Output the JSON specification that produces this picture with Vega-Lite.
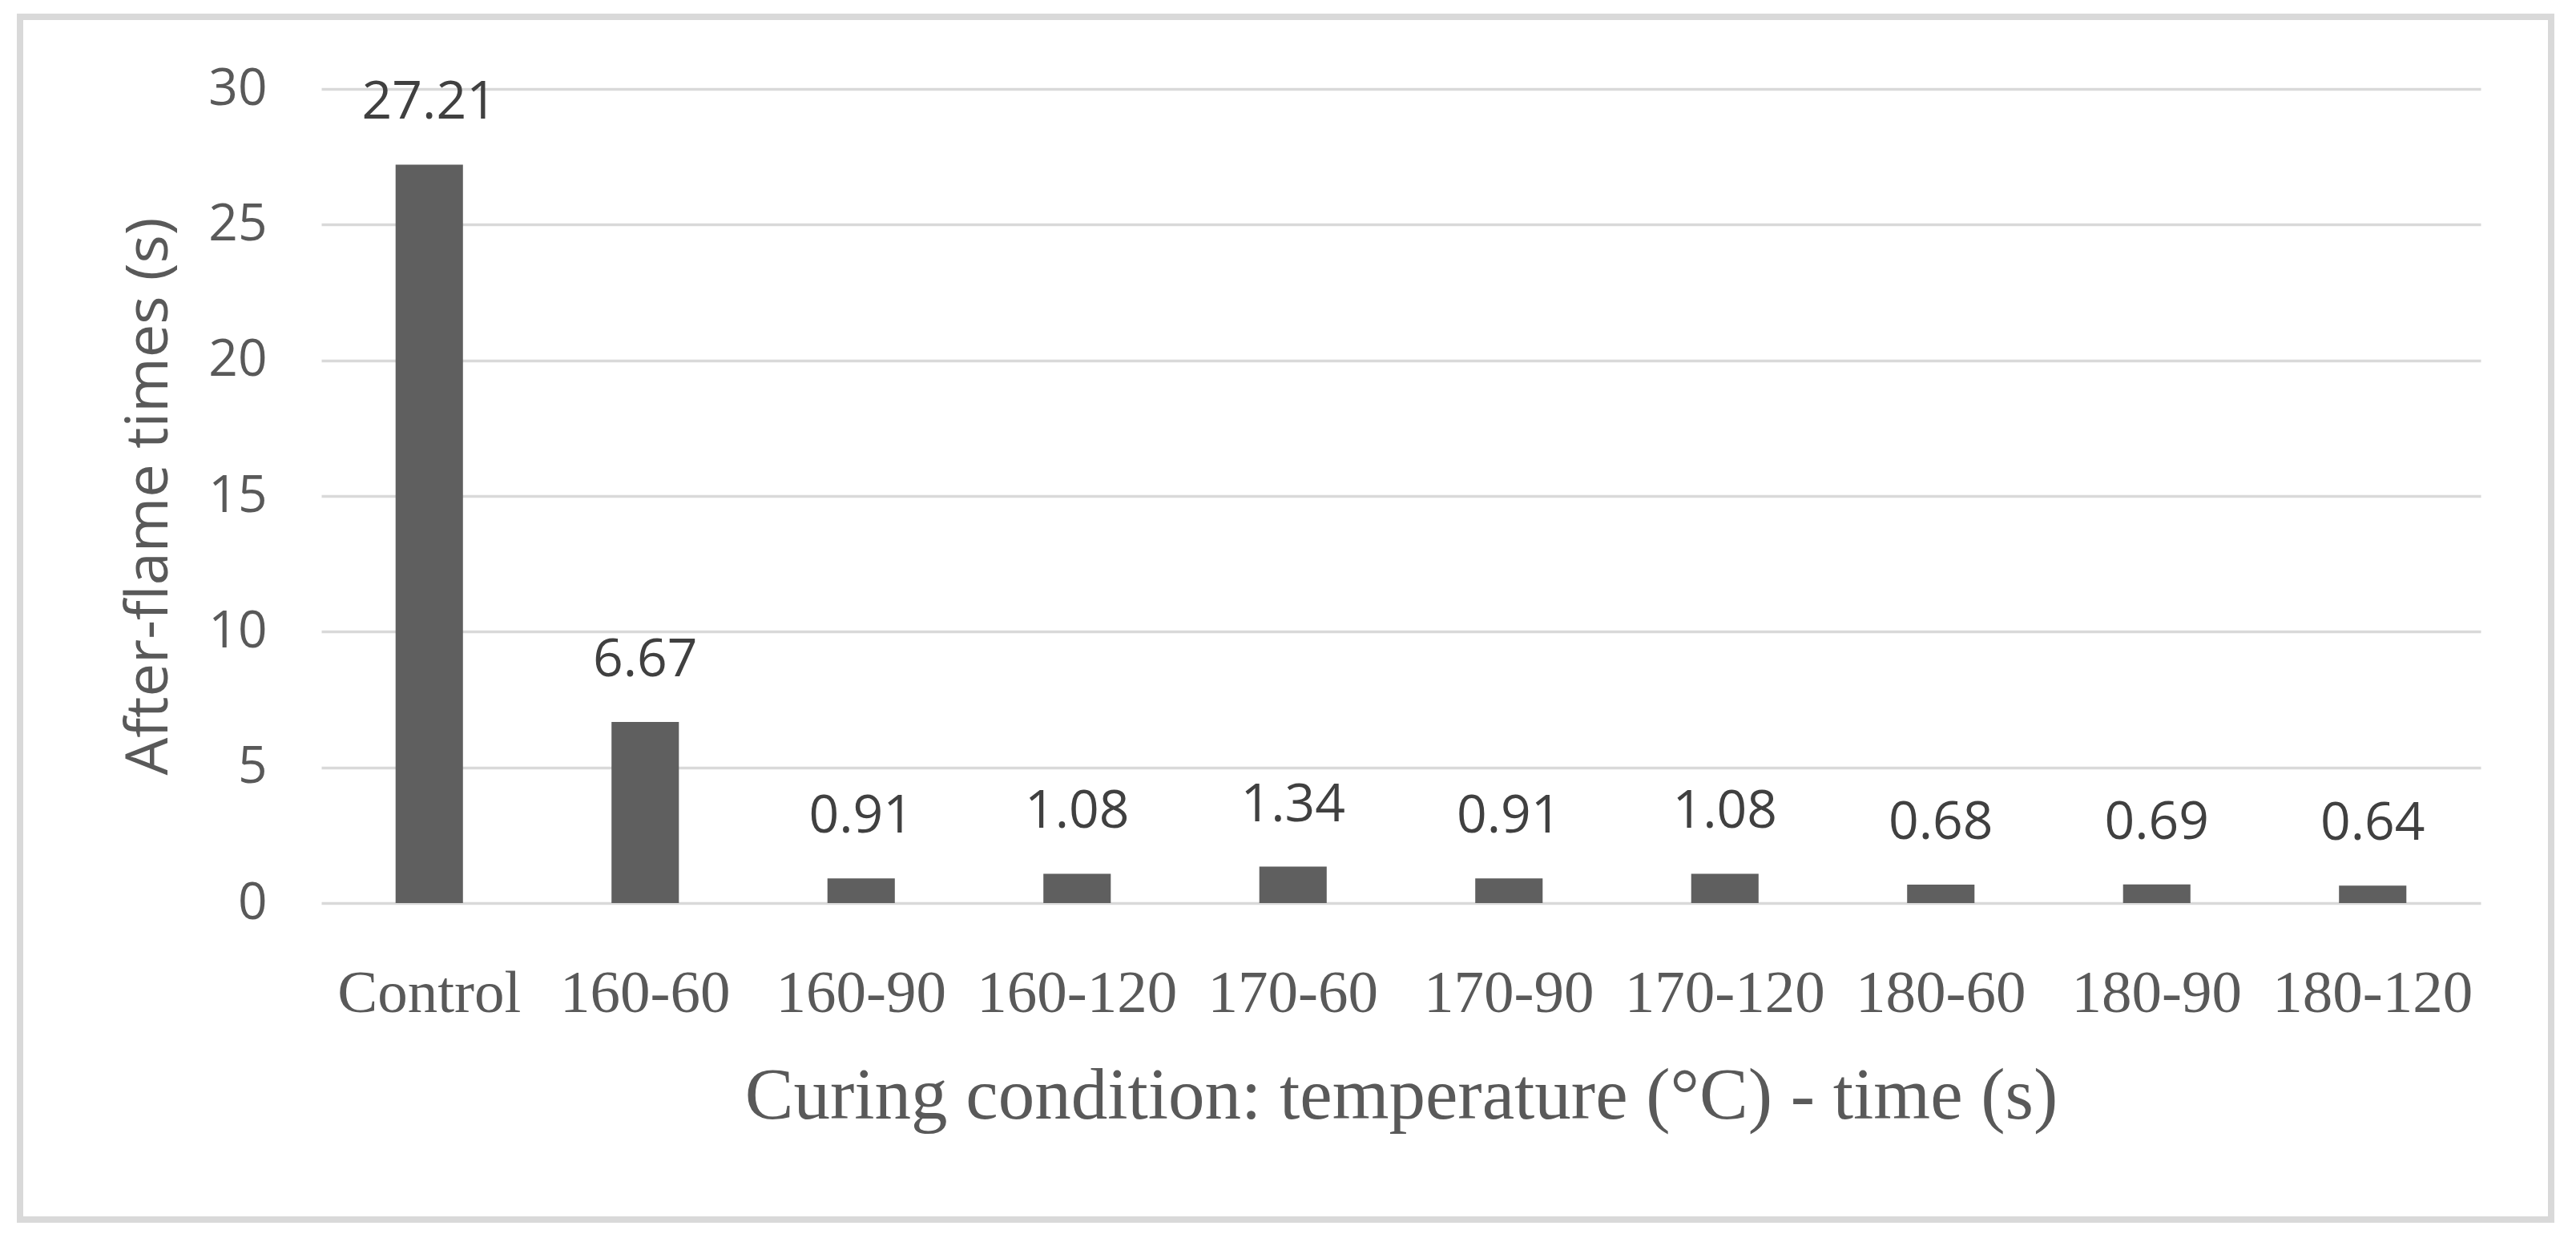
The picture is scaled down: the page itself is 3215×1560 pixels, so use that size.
{
  "$schema": "https://vega.github.io/schema/vega-lite/v6.json",
  "autosize": "none",
  "padding": {"left": 25, "top": 21, "right": 31, "bottom": 38},
  "width": 3159,
  "height": 1501,
  "background": "white",
  "config": {
    "view": {"stroke": "#d9d9d9", "strokeWidth": 8, "fill": "white"}
  },
  "data": {
    "values": [
      {"condition": "Control", "time": 27.21},
      {"condition": "160-60", "time": 6.67},
      {"condition": "160-90", "time": 0.91},
      {"condition": "160-120", "time": 1.08},
      {"condition": "170-60", "time": 1.34},
      {"condition": "170-90", "time": 0.91},
      {"condition": "170-120", "time": 1.08},
      {"condition": "180-60", "time": 0.68},
      {"condition": "180-90", "time": 0.69},
      {"condition": "180-120", "time": 0.64}
    ]
  },
  "encoding": {
    "x": {
      "field": "condition",
      "type": "nominal",
      "sort": null,
      "scale": {"range": [376, 3071], "paddingInner": 0.688, "paddingOuter": 0.344},
      "axis": {
        "title": "Curing condition: temperature (°C) - time (s)",
        "offset": -395,
        "domain": false,
        "ticks": false,
        "tickSize": 0,
        "grid": false,
        "labelAngle": 0,
        "labelFont": "Liberation Serif",
        "labelFontSize": 75,
        "labelColor": "#595959",
        "labelPadding": 135,
        "labelBaseline": "alphabetic",
        "labelOverlap": false,
        "labelLimit": 0,
        "titleFont": "Liberation Serif",
        "titleFontSize": 91,
        "titleFontWeight": "normal",
        "titleColor": "#595959",
        "titlePadding": 118,
        "titleBaseline": "alphabetic",
        "titleLimit": 0
      }
    },
    "y": {
      "field": "time",
      "type": "quantitative",
      "scale": {"domain": [0, 30], "range": [1106, 90], "nice": false, "zero": true},
      "axis": {
        "title": "After-flame times (s)",
        "values": [0, 5, 10, 15, 20, 25, 30],
        "offset": -376,
        "domain": false,
        "ticks": false,
        "tickSize": 0,
        "grid": true,
        "gridColor": "#d9d9d9",
        "gridWidth": 3.5,
        "labelFont": "Open Sans",
        "labelFontSize": 64,
        "labelColor": "#595959",
        "labelPadding": 68,
        "labelFlush": false,
        "labelOverlap": false,
        "titleFont": "Open Sans",
        "titleFontSize": 74,
        "titleFontWeight": "normal",
        "titleColor": "#595959",
        "titlePadding": 51,
        "titleBaseline": "alphabetic",
        "titleLimit": 0
      }
    }
  },
  "layer": [
    {
      "mark": {"type": "bar", "color": "#5f5f5f"}
    },
    {
      "mark": {"type": "text", "dy": -57, "baseline": "alphabetic", "align": "center", "font": "Open Sans", "fontSize": 66, "color": "#404040"},
      "encoding": {
        "text": {"field": "time", "type": "quantitative", "format": ".2f"}
      }
    }
  ]
}
